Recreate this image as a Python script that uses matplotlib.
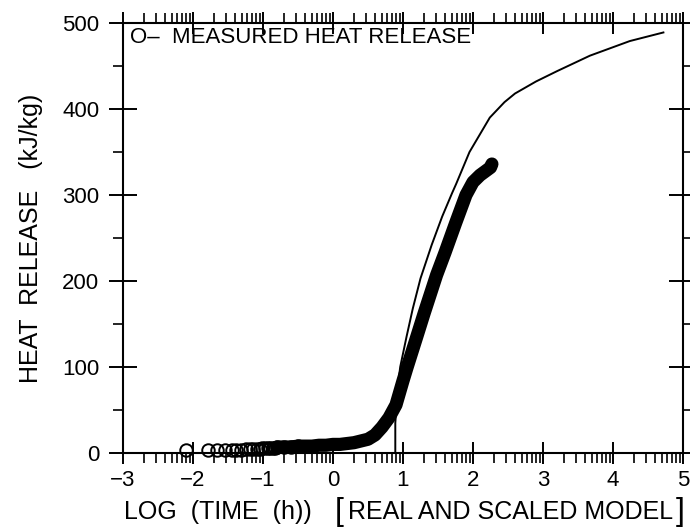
import numpy as np
import matplotlib
matplotlib.use('Agg')
import matplotlib.pyplot as plt

plt.rcParams['font.family'] = ['Liberation Sans', 'DejaVu Sans']

# masurat: log(timp) si caldura degajata
meas_x = [-2.1, -1.79, -1.66, -1.55, -1.45, -1.38, -1.31, -1.25, -1.19, -1.14,
          -1.09, -1.05, -1.01, -0.97, -0.93, -0.9, -0.86, -0.83, -0.8,
          -0.7, -0.6, -0.5, -0.4, -0.3, -0.2, -0.1, 0.0, 0.1, 0.2, 0.3, 0.4,
          0.5, 0.6, 0.7, 0.8, 0.9, 1.0, 1.06, 1.2, 1.3, 1.48, 1.6, 1.75, 1.9,
          2.0, 2.1, 2.2, 2.25, 2.27]
meas_y = [3, 3, 3, 4, 4, 4, 4, 5, 5, 5,
          5, 5, 6, 6, 6, 6, 6, 6, 7,
          7, 7, 8, 8, 8, 9, 9, 10, 10, 11, 12, 14,
          16, 21, 30, 41, 56, 84, 100, 136, 162, 207, 233, 267, 300,
          315, 323, 329, 332, 336]

# model (linie subtire)
model_x = [0.89, 0.89, 0.93, 0.96, 1.05, 1.14, 1.25, 1.41, 1.56, 1.7, 1.76,
           1.95, 2.24, 2.45, 2.6, 2.9, 3.2, 3.67, 4.24, 4.72]
model_y = [0, 35, 80, 100, 135, 168, 203, 242, 275, 302, 313,
           350, 390, 408, 418, 432, 444, 462, 479, 489]

x_ticks = [-3, -2, -1, 0, 1, 2, 3, 4, 5]
y_ticks = [0, 100, 200, 300, 400, 500]

fig = plt.figure(figsize=(6.9, 5.32), dpi=100)
ax = fig.add_axes([123 / 690, 1 - 453 / 532, 560 / 690, 430 / 532])

ax.plot(model_x, model_y, color='k', lw=1.4)
# punctele dese se vad ca o banda neagra
dense = [i for i, v in enumerate(meas_x) if v >= -0.8]
ax.plot([meas_x[i] for i in dense], [meas_y[i] for i in dense], color='k',
        lw=9.5, solid_capstyle='round', solid_joinstyle='round')
sparse = [i for i, v in enumerate(meas_x) if v <= -0.5]
ax.plot([meas_x[i] for i in sparse], [meas_y[i] for i in sparse], 'o', mfc='none',
        mec='k', ms=9, mew=1.4, clip_on=False)

ax.set_xlim(-3, 5)
ax.set_ylim(0, 500)
ax.set_xticks(x_ticks)
ax.set_yticks(y_ticks)
minor_x = [n + np.log10(k) for n in range(-3, 5) for k in range(2, 10)]
ax.set_xticks(minor_x, minor=True)
ax.set_yticks(np.arange(50, 500, 100), minor=True)

for s in ax.spines.values():
    s.set_linewidth(1.5)

ax.tick_params(axis='both', which='major', direction='inout', length=16, width=1.4,
               top=True, right=True, labelsize=16)
ax.tick_params(axis='both', which='minor', direction='out', length=7, width=1.2,
               top=True, right=True)
ax.tick_params(axis='x', which='major', pad=4)
ax.tick_params(axis='y', which='major', length=20, pad=7)

ax.text(0.012, 0.99, 'O\u2013  MEASURED HEAT RELEASE', transform=ax.transAxes,
        ha='left', va='top', fontsize=16)

ax.set_ylabel('HEAT  RELEASE   (kJ/kg)', fontsize=18, labelpad=14)

fig.text(124 / 690, 1 - 512 / 532, 'LOG  (TIME  (h))', ha='left', va='center', fontsize=18)
fig.text(339 / 690, 1 - 512 / 532, '[', ha='center', va='center', fontsize=23)
fig.text(348 / 690, 1 - 512 / 532, 'REAL AND SCALED MODEL', ha='left', va='center', fontsize=18)
fig.text(680 / 690, 1 - 512 / 532, ']', ha='center', va='center', fontsize=23)

plt.savefig('out.png', dpi=100)
